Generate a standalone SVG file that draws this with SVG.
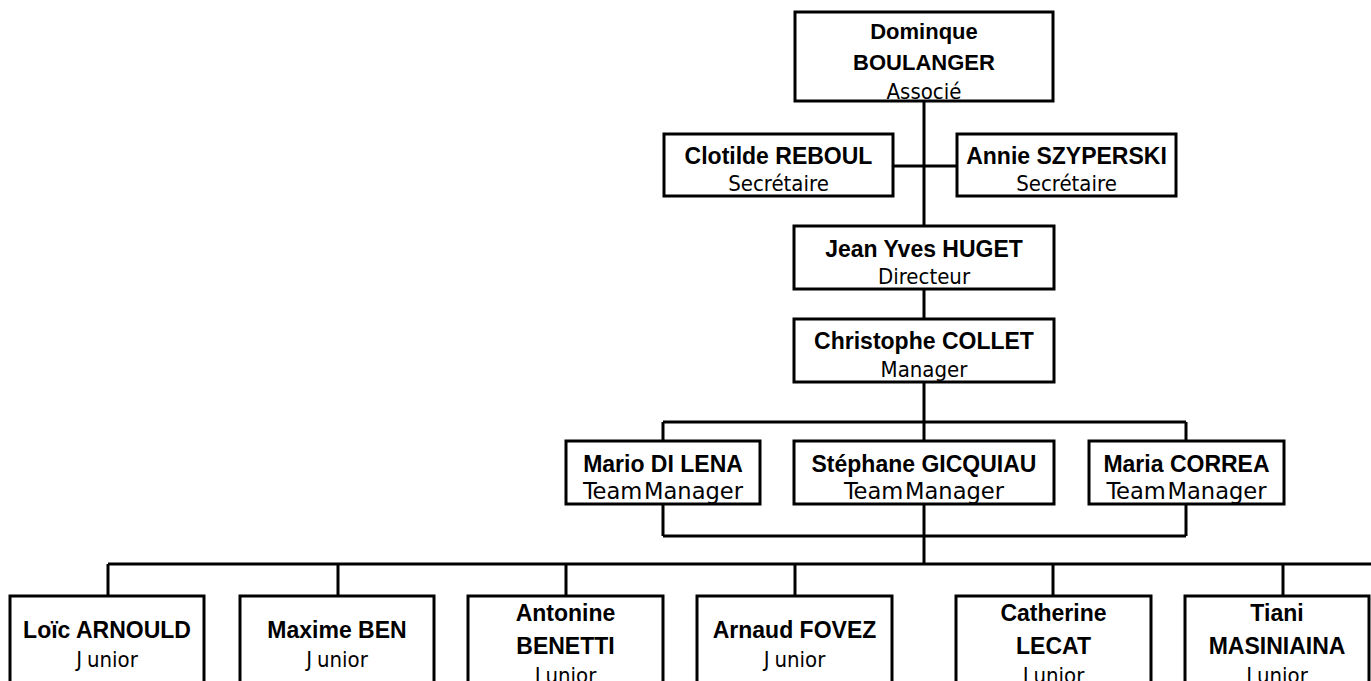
<svg xmlns="http://www.w3.org/2000/svg" width="1371" height="681" viewBox="0 0 1371 681">
<style>
.box{fill:#fff;stroke:#000;stroke-width:3}
.c{fill:none;stroke:#000;stroke-width:3}
.n{font-family:"Liberation Sans",Arial,sans-serif;font-weight:bold;font-size:23px;text-anchor:middle;fill:#000}
.t{font-size:22px}
.r{font-family:"DejaVu Sans Condensed","DejaVu Sans",sans-serif;font-stretch:condensed;font-size:22px;text-anchor:middle;fill:#000}
.tm{word-spacing:-5px;font-size:23px}
</style>
<rect width="1371" height="681" fill="#fff"/>
<g id="connectors">
<path class="c" d="M924,101V226M893,166H957M924,289V319M924,382V422M663,422H1186M663,422V441M924,422V441M1186,422V441M663,504V536M1186,504V536M663,536H1186M924,504V564M108,564H1371M108,564V596M338,564V596M566,564V596M795,564V596M1053,564V596M1283,564V596"/>
</g>
<g id="boulanger"><rect class="box" x="795" y="12" width="258" height="89"/><text class="n t" x="924" y="39">Dominque</text><text class="n t" x="924" y="70">BOULANGER</text><text class="r" x="924" y="99">Associé</text></g>
<g id="reboul"><rect class="box" x="664" y="134" width="229" height="62"/><text class="n" x="778.5" y="164">Clotilde REBOUL</text><text class="r" x="778.5" y="191">Secrétaire</text></g>
<g id="szyperski"><rect class="box" x="957" y="134" width="219" height="62"/><text class="n" x="1066.5" y="164">Annie SZYPERSKI</text><text class="r" x="1066.5" y="191">Secrétaire</text></g>
<g id="huget"><rect class="box" x="794" y="226" width="260" height="63"/><text class="n" x="924" y="257">Jean Yves HUGET</text><text class="r" x="924" y="284">Directeur</text></g>
<g id="collet"><rect class="box" x="794" y="319" width="260" height="63"/><text class="n" x="924" y="349">Christophe COLLET</text><text class="r" x="924" y="377">Manager</text></g>
<g id="dilena"><rect class="box" x="566" y="441" width="194" height="63"/><text class="n" x="663" y="472">Mario DI LENA</text><text class="r tm" x="663" y="499" textLength="160" lengthAdjust="spacingAndGlyphs">Team Manager</text></g>
<g id="gicquiau"><rect class="box" x="794" y="441" width="260" height="63"/><text class="n" x="924" y="472">Stéphane GICQUIAU</text><text class="r tm" x="924" y="499" textLength="160" lengthAdjust="spacingAndGlyphs">Team Manager</text></g>
<g id="correa"><rect class="box" x="1089" y="441" width="195" height="63"/><text class="n" x="1186.5" y="472">Maria CORREA</text><text class="r tm" x="1186.5" y="499" textLength="160" lengthAdjust="spacingAndGlyphs">Team Manager</text></g>
<g id="arnould"><rect class="box" x="10" y="596" width="194" height="120"/><text class="n" x="107" y="638">Loïc ARNOULD</text><text class="r" x="107" y="667">J<tspan dx="5">unior</tspan></text></g>
<g id="ben"><rect class="box" x="240" y="596" width="194" height="120"/><text class="n" x="337" y="638">Maxime BEN</text><text class="r" x="337" y="667">J<tspan dx="5">unior</tspan></text></g>
<g id="benetti"><rect class="box" x="468" y="596" width="195" height="120"/><text class="n" x="565.5" y="621">Antonine</text><text class="n" x="565.5" y="654">BENETTI</text><text class="r" x="565.5" y="683">J<tspan dx="5">unior</tspan></text></g>
<g id="fovez"><rect class="box" x="697" y="596" width="195" height="120"/><text class="n" x="794.5" y="638">Arnaud FOVEZ</text><text class="r" x="794.5" y="667">J<tspan dx="5">unior</tspan></text></g>
<g id="lecat"><rect class="box" x="956" y="596" width="195" height="120"/><text class="n" x="1053.5" y="621">Catherine</text><text class="n" x="1053.5" y="654">LECAT</text><text class="r" x="1053.5" y="683">J<tspan dx="5">unior</tspan></text></g>
<g id="masiniaina"><rect class="box" x="1185" y="596" width="184" height="120"/><text class="n" x="1277" y="621">Tiani</text><text class="n" x="1277" y="654">MASINIAINA</text><text class="r" x="1277" y="683">J<tspan dx="5">unior</tspan></text></g>
</svg>
